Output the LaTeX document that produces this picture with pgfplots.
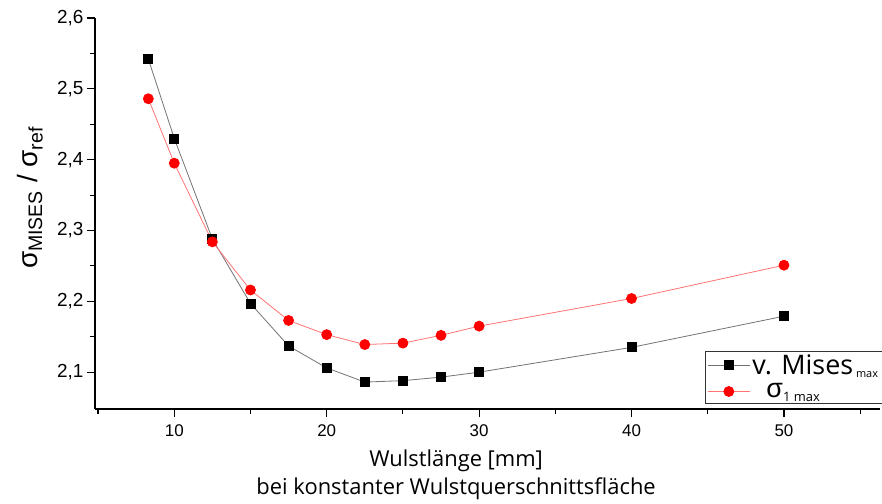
\documentclass[border=0pt]{standalone}
\usepackage{pgfplots}
\pgfplotsset{compat=1.18}
\usepackage{fontspec}
\setmainfont{Open Sans}
\newfontfamily\arialf{Liberation Sans}
\begin{document}
\begin{tikzpicture}
\begin{axis}[
  at={(0,0)}, anchor=south west,
  scale only axis,
  width=785bp, height=391bp,
  xmin=4.8, xmax=56.3,
  ymin=2.048, ymax=2.6,
  axis lines=left,
  axis line style={-, line width=1.1bp},
  xtick={10,20,30,40,50},
  minor xtick={5,15,25,35,45,55},
  ytick={2.1,2.2,2.3,2.4,2.5,2.6},
  minor ytick={2.15,2.25,2.35,2.45,2.55},
  tick align=outside,
  major tick length=8bp,
  minor tick length=5bp,
  tick style={line width=1.1bp, black},
  yticklabel style={font=\arialf\fontsize{19}{19}\selectfont, /pgf/number format/.cd, fixed, fixed zerofill, precision=1, use comma},
  xticklabel style={font=\arialf\fontsize{17}{17}\selectfont, yshift=-4bp},
  /pgf/number format/assume math mode=true,
  xlabel={Wulstlänge [mm]\\bei konstanter Wulstquerschnittsfläche},
  xlabel style={font=\fontsize{22}{29}\selectfont, align=center, at={(ticklabel cs:0.46)}, anchor=north, yshift=-6bp},
  ylabel={\arialf σ\textsubscript{MISES} / σ\textsubscript{ref}},
  ylabel style={font=\fontsize{28}{28}\selectfont, at={(axis description cs:-0.083,0.54)}, anchor=center},
  legend style={at={(rel axis cs:1.003,0.015)}, anchor=south east, draw=black!80, line width=0.6bp,
    font=\fontsize{27}{27}\selectfont, inner sep=1.5bp, row sep=4bp, cells={anchor=west}},
  legend image code/.code={\draw[mark repeat=2,mark phase=2,#1] plot coordinates {(0cm,0cm) (0.75cm,0cm) (1.5cm,0cm)};},
]
\addplot[color=black!55, line width=0.8bp, mark=square*, mark size=4.5bp, mark options={fill=black, draw=black, solid}]
coordinates {
(8.3,2.542) (10,2.430) (12.5,2.288) (15,2.197) (17.5,2.137) (20,2.106)
(22.5,2.086) (25,2.088) (27.5,2.093) (30,2.100) (40,2.135) (50,2.179)
};
\addlegendentry{v. Mises\textsubscript{\fontsize{11}{11}\selectfont\ max}}
\addplot[color=red!55, line width=0.8bp, mark=*, mark size=5bp, mark options={fill=red, draw=red, solid}]
coordinates {
(8.3,2.486) (10,2.395) (12.5,2.284) (15,2.216) (17.5,2.173) (20,2.153)
(22.5,2.139) (25,2.141) (27.5,2.152) (30,2.165) (40,2.204) (50,2.251)
};
\addlegendentry{\ \ {\arialf σ}\textsubscript{\fontsize{13}{13}\selectfont 1 max}}
\end{axis}
\pgfresetboundingbox
\path[use as bounding box] (-95bp,-95bp) rectangle (787bp,409bp);
\end{tikzpicture}
\end{document}
